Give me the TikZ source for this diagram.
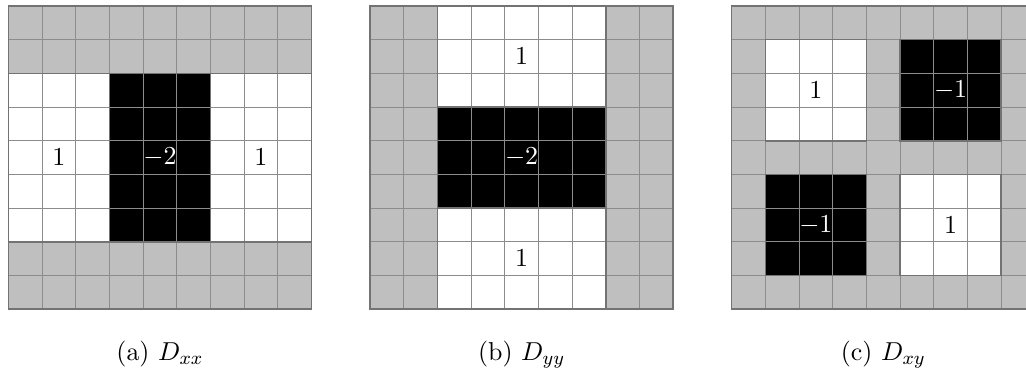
\documentclass[tikz,border=0pt,11pt]{standalone}
\begin{document}
\begin{tikzpicture}[x=0.5cm,y=0.5cm,
  gridline/.style={draw=black!45, line width=0.4pt, step=0.5cm},
  region/.style={draw=black!55, line width=0.65pt},
  graycell/.style={fill=black!25},
  whitecell/.style={fill=white},
  blackcell/.style={fill=black},
  wlabel/.style={text=black, inner sep=0pt},
  blabel/.style={text=white, inner sep=0pt},
  caplabel/.style={anchor=base, inner sep=0pt}]
\useasboundingbox (0,0) rectangle (30.47,10.99);
\clip (0,0) rectangle (30.47,10.99);
% (a) D_xx
\begin{scope}[shift={(0.25,1.81)}]
  \fill[graycell] (0,0) rectangle (9,9);
  \fill[whitecell] (0,2) rectangle (3,7) (6,2) rectangle (9,7);
  \fill[blackcell] (3,2) rectangle (6,7);
  \draw[gridline] (0,0) grid (9,9);
  \draw[region] (0,0) rectangle (9,9) (0,2) rectangle (3,7) (3,2) rectangle (6,7) (6,2) rectangle (9,7);
  \node[wlabel] (a1) at (1.5,4.5) {$1$};
  \node[blabel] (a2) at (4.5,4.5) {$-2$};
  \node[wlabel] (a3) at (7.5,4.5) {$1$};
  \node[caplabel] (acap) at (4.5,-1.54) {(a)\ $D_{xx}$};
\end{scope}
% (b) D_yy
\begin{scope}[shift={(10.99,1.81)}]
  \fill[graycell] (0,0) rectangle (9,9);
  \fill[whitecell] (2,6) rectangle (7,9) (2,0) rectangle (7,3);
  \fill[blackcell] (2,3) rectangle (7,6);
  \draw[gridline] (0,0) grid (9,9);
  \draw[region] (0,0) rectangle (9,9) (2,6) rectangle (7,9) (2,3) rectangle (7,6) (2,0) rectangle (7,3);
  \node[wlabel] (b1) at (4.5,7.5) {$1$};
  \node[blabel] (b2) at (4.5,4.5) {$-2$};
  \node[wlabel] (b3) at (4.5,1.5) {$1$};
  \node[caplabel] (bcap) at (4.5,-1.54) {(b)\ $D_{yy}$};
\end{scope}
% (c) D_xy
\begin{scope}[shift={(21.73,1.81)}]
  \fill[graycell] (0,0) rectangle (9,9);
  \fill[whitecell] (1,5) rectangle (4,8) (5,1) rectangle (8,4);
  \fill[blackcell] (5,5) rectangle (8,8) (1,1) rectangle (4,4);
  \draw[gridline] (0,0) grid (9,9);
  \draw[region] (0,0) rectangle (9,9) (1,5) rectangle (4,8) (5,5) rectangle (8,8) (1,1) rectangle (4,4) (5,1) rectangle (8,4);
  \node[wlabel] (c1) at (2.5,6.5) {$1$};
  \node[blabel] (c2) at (6.5,6.5) {$-1$};
  \node[blabel] (c3) at (2.5,2.5) {$-1$};
  \node[wlabel] (c4) at (6.5,2.5) {$1$};
  \node[caplabel] (ccap) at (4.5,-1.54) {(c)\ $D_{xy}$};
\end{scope}
\end{tikzpicture}
\end{document}
